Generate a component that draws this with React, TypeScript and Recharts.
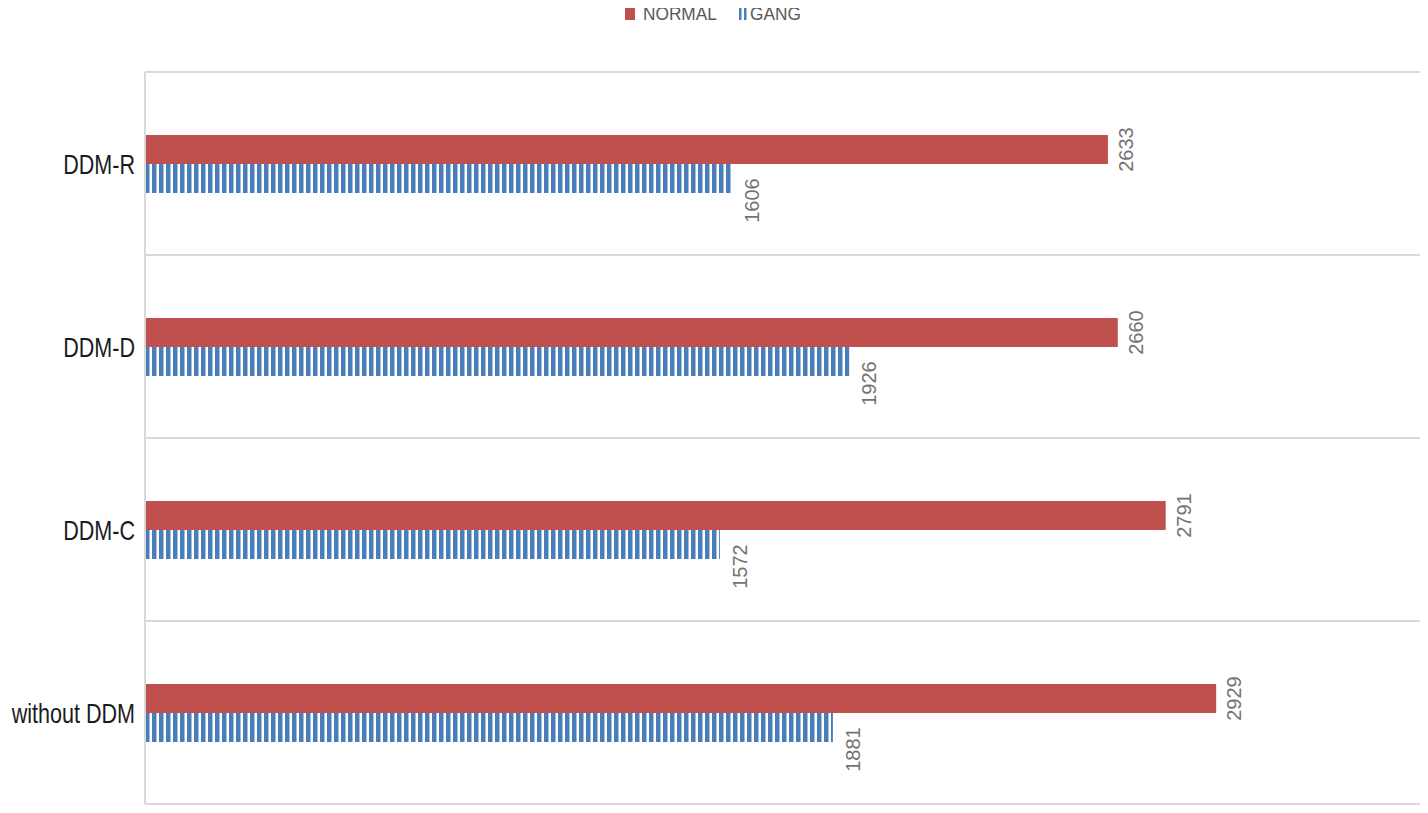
import React from 'react';
import { BarChart, Bar, XAxis, YAxis, CartesianGrid, Legend } from 'recharts';

const categories = ['DDM-R', 'DDM-D', 'DDM-C', 'without DDM'];
const normalValues = [2633, 2660, 2791, 2929];
const gangValues = [1606, 1926, 1572, 1881];
const seriesNames = ['NORMAL', 'GANG'];

const data = categories.map((name, i) => ({
  name,
  NORMAL: normalValues[i],
  GANG: gangValues[i],
}));

const RED = '#C0504D';
const BLUE = '#4A7EBB';
const FONT = '"Liberation Sans", Arial, sans-serif';

const YTick = (props: any) => {
  const { x, y, payload } = props;
  const ax = x - 2;
  return (
    <text
      x={ax}
      y={y}
      transform={`translate(${ax}, ${y}) scale(0.77, 1) translate(${-ax}, ${-y})`}
      textAnchor="end"
      dominantBaseline="central"
      fontFamily={FONT}
      fontSize={28}
      fill="#1a1a24"
    >
      {payload.value}
    </text>
  );
};

const makeLabel = (dx: number, dy: number) => (props: any) => {
  const { x, y, width, height, value } = props;
  const cx = x + width + dx;
  const cy = y + height / 2 + dy;
  return (
    <text
      x={cx}
      y={cy}
      transform={`rotate(-90, ${cx}, ${cy})`}
      textAnchor="middle"
      dominantBaseline="central"
      fontFamily={FONT}
      fontSize={20}
      fill="#737373"
    >
      {value}
    </text>
  );
};

const LegendContent = () => (
  <svg width={1420} height={28} style={{ display: 'block' }}>
    <g transform="translate(617, 0)" fontFamily={FONT} fontSize={18} fill="#595959">
      <rect x={0} y={8} width={10} height={12} fill={RED} />
      <text x={18} y={14} dominantBaseline="central" transform="translate(18,14) scale(0.96,1) translate(-18,-14)">
        {seriesNames[0]}
      </text>
      <rect x={114} y={8} width={2.5} height={12} fill={BLUE} />
      <rect x={119} y={8} width={2.5} height={12} fill={BLUE} />
      <text x={125} y={14} dominantBaseline="central" transform="translate(125,14) scale(0.96,1) translate(-125,-14)">
        {seriesNames[1]}
      </text>
    </g>
  </svg>
);

export default function App() {
  return (
    <BarChart
      width={1420}
      height={805}
      data={data}
      layout="vertical"
      margin={{ top: 36, right: 3, bottom: 9, left: 0 }}
      barGap={0}
      barSize={29}
    >
      <defs>
        <pattern id="gangStripes" patternUnits="userSpaceOnUse" x={4} y={0} width={7} height={10}>
          <rect x={0} y={0} width={4.5} height={10} fill={BLUE} />
        </pattern>
      </defs>
      <Legend verticalAlign="top" content={<LegendContent />} wrapperStyle={{ top: -8, left: 0, width: 1420, height: 28 }} />
      <CartesianGrid
        vertical={false}
        stroke="#d9d9d9"
        strokeWidth={2}
        horizontalCoordinatesGenerator={({ offset }: any) =>
          Array.from({ length: categories.length + 1 }, (_, i) => offset.top + (i * offset.height) / categories.length)
        }
      />
      <XAxis type="number" domain={[0, 3500]} hide />
      <YAxis
        type="category"
        dataKey="name"
        width={137}
        tickLine={false}
        axisLine={{ stroke: '#d9d9d9', strokeWidth: 2 }}
        tick={<YTick />}
      />
      <Bar dataKey="NORMAL" fill={RED} isAnimationActive={false} label={makeLabel(18, 0)} />
      <Bar dataKey="GANG" fill="url(#gangStripes)" isAnimationActive={false} label={makeLabel(20, 22)} />
    </BarChart>
  );
}
